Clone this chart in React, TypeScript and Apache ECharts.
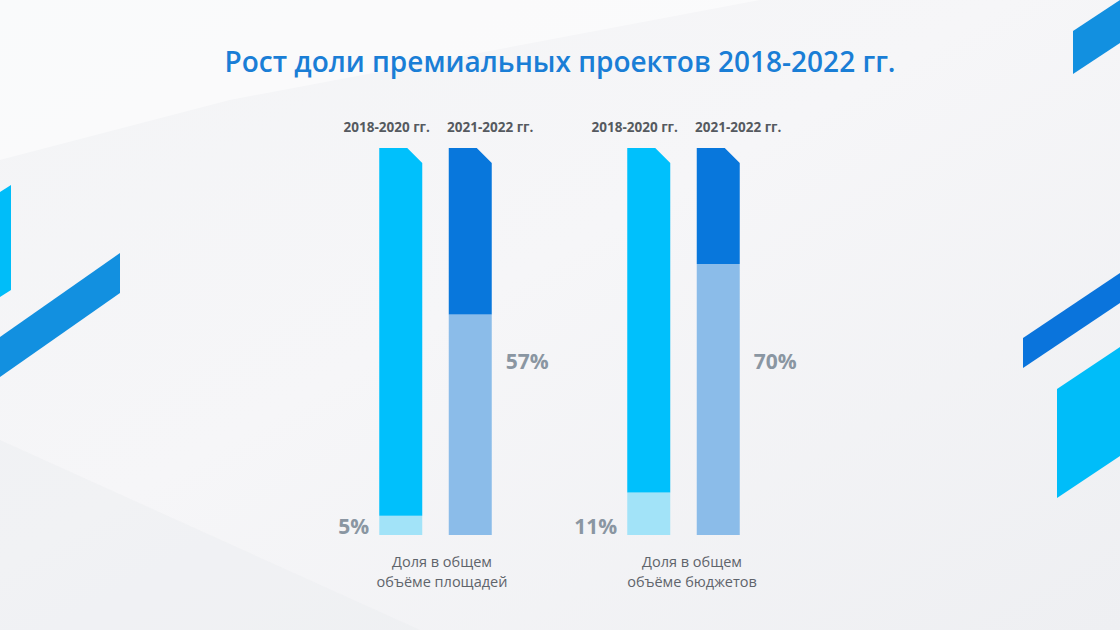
import React, { useEffect, useRef } from "react";
import * as echarts from "echarts";

// Chart content
const chartTitle = "Рост доли премиальных проектов 2018-2022 гг.";
const periods = ["2018-2020 гг.", "2021-2022 гг."];
const areaShare = [5, 57]; // share of premium projects in total floor area, %
const budgetShare = [11, 70]; // share of premium projects in total budgets, %
const groupCaptions = ["Доля в общем\nобъёме площадей", "Доля в общем\nобъёме бюджетов"];
const rightLabelLevel = 45; // value level at which the second bar's label sits

const TOP_COLORS = ["#00c0fc", "#0877dc"];
const BASE_COLORS = ["#a2e3f8", "#8bbce9"];
const LABEL_COLOR = "#8a96a2";
const FONT = '"Open Sans", "Noto Sans", sans-serif';

function renderBar(params: any, api: any) {
  const idx = api.value(0);
  const v = api.value(1);
  const base = api.coord([idx, 0]);
  const split = api.coord([idx, v]);
  const top = api.coord([idx, 100]);
  const w = 43;
  const x0 = base[0] - w / 2;
  const x1 = x0 + w;
  const cut = 15;
  const children: any[] = [
    {
      type: "rect",
      shape: { x: x0, y: split[1], width: w, height: base[1] - split[1] },
      style: { fill: BASE_COLORS[idx] },
    },
    {
      type: "polygon",
      shape: {
        points: [
          [x0, top[1]],
          [x1 - cut, top[1]],
          [x1, top[1] + cut],
          [x1, split[1]],
          [x0, split[1]],
        ],
      },
      style: { fill: TOP_COLORS[idx] },
    },
    {
      type: "text",
      style: {
        text: periods[idx],
        x: base[0] + (idx === 0 ? -14 : 20),
        y: top[1] - 21,
        fill: "#555a60",
        font: `bold 13.5px ${FONT}`,
        textAlign: "center",
        textVerticalAlign: "middle",
      },
    },
  ];
  if (idx === 0) {
    children.push({
      type: "text",
      style: {
        text: v + "%",
        x: x0 - 10,
        y: base[1] - 9,
        fill: LABEL_COLOR,
        font: `bold 21px ${FONT}`,
        textAlign: "right",
        textVerticalAlign: "middle",
      },
    });
  } else {
    const ly = api.coord([idx, rightLabelLevel])[1];
    children.push({
      type: "text",
      style: {
        text: v + "%",
        x: x1 + 14,
        y: ly,
        fill: LABEL_COLOR,
        font: `bold 21px ${FONT}`,
        textAlign: "left",
        textVerticalAlign: "middle",
      },
    });
  }
  return { type: "group", children };
}

function toData(vals: number[]) {
  return vals.map((v, i) => [i, v]);
}

export default function App() {
  const ref = useRef<HTMLDivElement>(null);
  useEffect(() => {
    if (!ref.current) return;
    const chart = echarts.init(ref.current, undefined, { renderer: "svg" });
    const gridTop = 148;
    const gridHeight = 387;
    const grids = [
      { left: 366, top: gridTop, width: 139, height: gridHeight },
      { left: 614, top: gridTop, width: 139, height: gridHeight },
    ];
    const xAxes = grids.map((_, i) => ({
      type: "category",
      gridIndex: i,
      data: periods,
      show: false,
    }));
    const yAxes = grids.map((_, i) => ({
      type: "value",
      gridIndex: i,
      min: 0,
      max: 100,
      show: false,
    }));
    const shapes = [
      { pts: [[0, 192], [11, 185], [11, 290], [0, 297]], fill: "#00bdf9" },
      { pts: [[120, 253], [120, 293], [0, 377], [0, 337]], fill: "#1290e0" },
      { pts: [[1073, 31], [1120, 0], [1120, 43], [1073, 74]], fill: "#1290e0" },
      { pts: [[1023, 338], [1120, 273], [1120, 303], [1023, 368]], fill: "#0a74dc" },
      { pts: [[1057, 389], [1120, 347], [1120, 456], [1057, 498]], fill: "#00bdf9" },
    ];
    chart.setOption({
      animation: false,
      backgroundColor: "#eff0f3",
      title: {
        text: chartTitle,
        left: "center",
        top: 42,
        textStyle: { color: "#1a7ed6", fontSize: 28, fontWeight: 600, fontFamily: FONT },
      },
      grid: grids,
      xAxis: xAxes,
      yAxis: yAxes,
      graphic: [
        {
          type: "rect",
          z: -10,
          shape: { x: 0, y: 0, width: 1120, height: 630 },
          style: {
            fill: new echarts.graphic.LinearGradient(0, 0, 1, 1, [
              { offset: 0, color: "#f3f4f6" },
              { offset: 0.45, color: "#f6f6f8" },
              { offset: 1, color: "#eeeff2" },
            ]),
          },
        },
        {
          type: "polygon",
          z: -9,
          shape: { points: [[0, 0], [760, 0], [230, 100], [0, 160]] },
          style: { fill: "rgba(255,255,255,0.5)" },
        },
        {
          type: "polygon",
          z: -9,
          shape: { points: [[0, 440], [420, 630], [0, 630]] },
          style: { fill: "rgba(232,234,238,0.35)" },
        },
        ...shapes.map((s) => ({
          type: "polygon",
          z: -5,
          shape: { points: s.pts },
          style: { fill: s.fill },
        })),
        ...groupCaptions.map((c, i) => ({
          type: "text",
          style: {
            text: c,
            x: [442, 692][i],
            y: 571,
            fill: "#5f646b",
            font: `14.5px ${FONT}`,
            textAlign: "center",
            textVerticalAlign: "middle",
            lineHeight: 20,
          },
        })),
      ],
      series: [
        {
          type: "custom",
          xAxisIndex: 0,
          yAxisIndex: 0,
          renderItem: renderBar,
          data: toData(areaShare),
        },
        {
          type: "custom",
          xAxisIndex: 1,
          yAxisIndex: 1,
          renderItem: renderBar,
          data: toData(budgetShare),
        },
      ],
    });
    return () => chart.dispose();
  }, []);
  return (
    <div
      ref={ref}
      style={{ position: "absolute", left: 0, top: 0, width: 1120, height: 630 }}
    />
  );
}
